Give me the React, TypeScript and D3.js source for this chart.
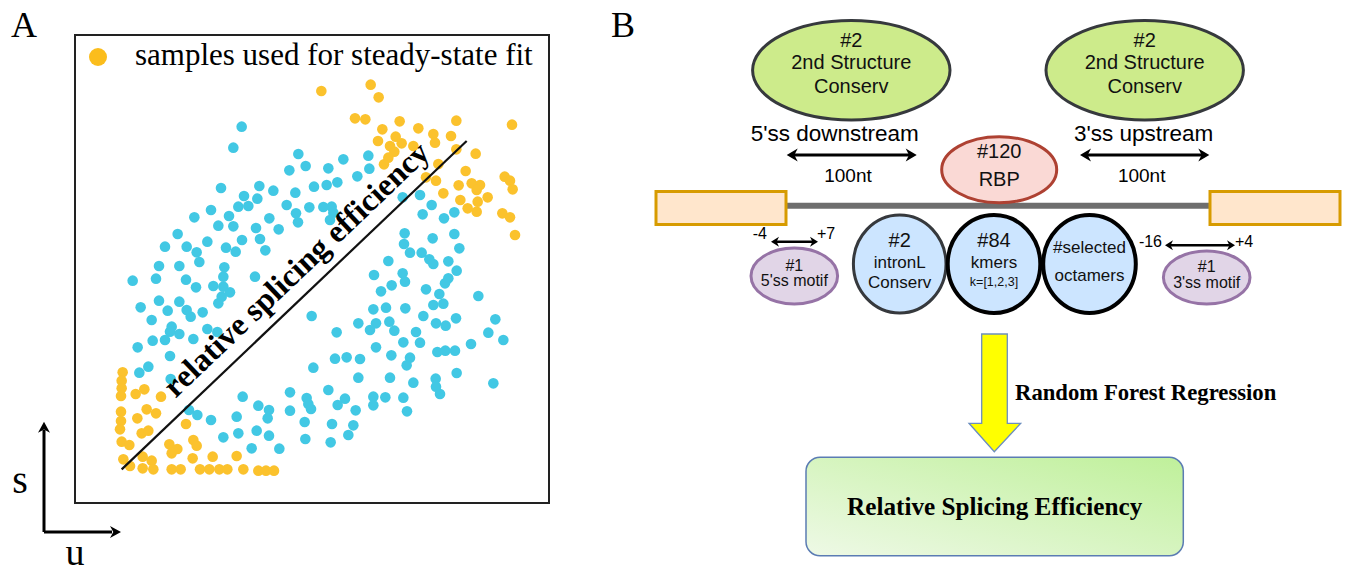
import * as d3 from 'd3';

// phase portrait samples, (u, s)
const fitSamples: [number, number][] = [
  [754, 1257], [902, 1276], [926, 1238], [855, 1175], [886, 1172], [989, 1166], [1159, 1168], [1326, 1156],
  [937, 1142], [1045, 1145], [1090, 1128], [1143, 1122], [924, 1107], [977, 1120], [995, 1100], [960, 1092],
  [1030, 1092], [1095, 1102], [1159, 1082], [1217, 1069], [973, 1075], [955, 1057], [942, 1037], [1105, 1038],
  [1068, 998], [1098, 988], [1187, 1017], [1166, 974], [1205, 980], [1230, 975], [1220, 960], [1253, 938],
  [1120, 950], [1171, 930], [1223, 925], [1193, 905], [1220, 895], [1304, 1000], [1320, 988], [1328, 962],
  [1297, 890], [1320, 878], [1335, 825],
  [158, 413], [155, 388], [155, 365], [153, 342], [197, 348], [223, 362], [273, 340], [153, 295],
  [153, 267], [150, 242], [202, 275], [230, 302], [258, 290], [215, 230], [235, 238], [348, 258],
  [155, 205], [178, 195], [160, 152], [180, 132], [218, 160], [245, 148], [218, 125], [250, 122],
  [298, 197], [322, 183], [305, 170], [370, 210], [380, 193], [368, 155], [428, 160], [500, 162],
  [305, 122], [332, 122], [390, 122], [418, 122], [448, 122], [472, 122], [520, 122], [565, 118],
  [588, 118], [612, 118],
];

const otherSamples: [number, number][] = [
  [515, 1150], [490, 1087], [685, 1068], [658, 1019], [707, 1032], [453, 966], [568, 972], [522, 942],
  [610, 958], [562, 934], [676, 952], [732, 970], [505, 910], [535, 912], [650, 915], [718, 908],
  [423, 900], [477, 882], [598, 875], [678, 890], [684, 863], [373, 878], [445, 853], [490, 851],
  [558, 846], [626, 842], [323, 828], [516, 810], [570, 813], [412, 805], [285, 790], [350, 790],
  [468, 787], [380, 773], [497, 775], [586, 779], [388, 744], [267, 732], [328, 732], [463, 728],
  [188, 688], [258, 694], [348, 691], [460, 700], [555, 700],
  [820, 1052], [895, 1063], [775, 1025], [898, 1024], [862, 1001], [770, 975], [802, 983], [760, 909],
  [785, 910], [790, 892], [780, 870], [998, 938], [1050, 945], [1085, 915], [1058, 887], [1122, 875],
  [1153, 893], [1004, 830], [1153, 828], [1002, 798], [1088, 815], [1020, 772], [1055, 772], [1168, 785],
  [955, 747], [1078, 752], [1090, 738], [1135, 746], [912, 705], [998, 710], [1160, 718],
  [1005, 685], [1135, 695], [1125, 680], [965, 674], [933, 656], [1068, 662], [1108, 648], [1225, 642],
  [725, 582], [910, 602], [948, 607], [1006, 605], [1090, 615], [1120, 619], [1060, 582], [1158, 575],
  [1276, 572], [865, 560], [918, 560], [958, 565], [1098, 560], [1127, 553], [800, 533], [900, 540],
  [973, 538], [1038, 534], [1255, 532], [1300, 510], [1000, 503], [1050, 502], [1203, 498], [918, 488],
  [1102, 474], [1126, 478], [1155, 478], [964, 464], [795, 454], [830, 458], [870, 453], [1020, 457],
  [1010, 434], [730, 427], [865, 397], [960, 397], [1160, 411], [1097, 394], [1098, 370], [1030, 382],
  [1270, 380], [1110, 348], [775, 360], [710, 336], [715, 318], [723, 303], [825, 334], [803, 315],
  [910, 340], [910, 314], [946, 338], [1000, 337], [857, 299], [1011, 296], [704, 264], [786, 258],
  [850, 254], [706, 213], [782, 203], [835, 225],
  [378, 668], [430, 672], [460, 670], [480, 653], [455, 640], [445, 620], [267, 628], [328, 625],
  [212, 608], [293, 598], [350, 600], [362, 580], [398, 593], [245, 570], [305, 550], [300, 535],
  [285, 510], [328, 528], [412, 543], [442, 534], [248, 508], [370, 513], [203, 488], [300, 462],
  [235, 430], [208, 412], [302, 393], [518, 340], [565, 313], [597, 300], [593, 275], [660, 353],
  [660, 298], [357, 300], [382, 285], [423, 270], [500, 280], [560, 238], [597, 223], [505, 230],
  [460, 218], [545, 185], [628, 184],
];

// steady-state fit line endpoints
const fitLine: [number, number][] = [[155, 122], [1190, 1107]];

const ORANGE = '#fbbd1c';
const CYAN = '#33c4e2';
const SANS = '"Liberation Sans", Arial, Helvetica, sans-serif';
const SERIF = '"Liberation Serif", "Times New Roman", serif';

// arrowhead helper: tip at (tx,ty), pointing in direction (dx,dy)
function head(tx: number, ty: number, dx: number, dy: number, len: number, hw: number) {
  const bx = tx - dx * len, by = ty - dy * len;
  const nx = -dy, ny = dx;
  const notch = len * 0.3;
  const mx = bx + dx * notch, my = by + dy * notch;
  return `M${tx},${ty}L${bx + nx * hw},${by + ny * hw}L${mx},${my}L${bx - nx * hw},${by - ny * hw}Z`;
}

function DoubleArrow({ x1, x2, y, sw, len, hw }: { x1: number; x2: number; y: number; sw: number; len: number; hw: number }) {
  return (
    <g>
      <line x1={x1 + len * 0.6} x2={x2 - len * 0.6} y1={y} y2={y} stroke="#000" strokeWidth={sw} />
      <path d={head(x1, y, -1, 0, len, hw)} fill="#000" />
      <path d={head(x2, y, 1, 0, len, hw)} fill="#000" />
    </g>
  );
}

type Line = { t: string; dy: number; fs: number };
type Node = { cx: number; cy: number; rx: number; ry: number; fill: string; stroke: string; sw: number; lines: Line[] };

const greenLines: Line[] = [
  { t: '#2', dy: -23.6, fs: 20 },
  { t: '2nd Structure', dy: -1, fs: 20 },
  { t: 'Conserv', dy: 22.4, fs: 20 },
];

const nodes: Node[] = [
  { cx: 851.3, cy: 70.3, rx: 98.7, ry: 49.7, fill: '#cdeb8b', stroke: '#36393d', sw: 3, lines: greenLines },
  { cx: 1144.7, cy: 70.3, rx: 98.7, ry: 49.7, fill: '#cdeb8b', stroke: '#36393d', sw: 3, lines: greenLines },
  {
    cx: 999.2, cy: 169.7, rx: 57.5, ry: 33, fill: '#fad9d5', stroke: '#ae4132', sw: 3,
    lines: [{ t: '#120', dy: -11.4, fs: 20 }, { t: 'RBP', dy: 16, fs: 20 }],
  },
  {
    cx: 794.3, cy: 276, rx: 43.3, ry: 28, fill: '#e1d5e7', stroke: '#9673a6', sw: 3,
    lines: [{ t: '#1', dy: -5.5, fs: 16 }, { t: "5'ss motif", dy: 10, fs: 16 }],
  },
  {
    cx: 1206.7, cy: 277.5, rx: 43.3, ry: 26.5, fill: '#e1d5e7', stroke: '#9673a6', sw: 3,
    lines: [{ t: '#1', dy: -5.5, fs: 16 }, { t: "3'ss motif", dy: 10.5, fs: 16 }],
  },
  {
    cx: 899.7, cy: 264, rx: 46.3, ry: 49, fill: '#cce5ff', stroke: '#36393d', sw: 3,
    lines: [{ t: '#2', dy: -17.3, fs: 20 }, { t: 'intronL', dy: 4, fs: 17 }, { t: 'Conserv', dy: 24, fs: 17 }],
  },
  {
    cx: 994, cy: 264, rx: 46.3, ry: 49, fill: '#cce5ff', stroke: '#000', sw: 4,
    lines: [{ t: '#84', dy: -17.3, fs: 20 }, { t: 'kmers', dy: 4.3, fs: 17 }, { t: 'k=[1,2,3]', dy: 21.5, fs: 12.5 }],
  },
  {
    cx: 1089.5, cy: 264, rx: 46.3, ry: 49, fill: '#cce5ff', stroke: '#000', sw: 4,
    lines: [{ t: '#selected', dy: -10.7, fs: 17 }, { t: 'octamers', dy: 16.7, fs: 17 }],
  },
];

export default function App() {
  const x = d3.scaleLinear().domain([0, 1440]).range([70, 550]);
  const y = d3.scaleLinear().domain([0, 1440]).range([510, 30]);

  const p0 = [x(fitLine[0][0]), y(fitLine[0][1])];
  const p1 = [x(fitLine[1][0]), y(fitLine[1][1])];
  const L = Math.hypot(p1[0] - p0[0], p1[1] - p0[1]);
  const d = [(p1[0] - p0[0]) / L, (p1[1] - p0[1]) / L];
  const n = [d[1], -d[0]];
  const ang = (Math.atan2(d[1], d[0]) * 180) / Math.PI;
  const tAlong = L * 0.555;
  const lx = p0[0] + d[0] * tAlong + n[0] * 14;
  const ly = p0[1] + d[1] * tAlong + n[1] * 14;

  const line = d3.line();

  return (
    <div style={{ position: 'absolute', left: 0, top: 0 }}>
      <svg width={1345} height={572} style={{ display: 'block', background: '#fff' }}>
        <defs>
          <linearGradient id="boxGrad" x1="0" y1="1" x2="1" y2="0">
            <stop offset="0" stopColor="#eef9e6" />
            <stop offset="1" stopColor="#bff09a" />
          </linearGradient>
        </defs>

        {/* ---------- panel A ---------- */}
        <text x={11} y={36.7} fontFamily={SERIF} fontSize={36}>A</text>
        <rect x={75} y={35} width={474} height={468} fill="none" stroke="#222" strokeWidth={2} />

        <circle cx={98} cy={57} r={9} fill={ORANGE} />
        <text x={135} y={65} fontFamily={SERIF} fontSize={31}>samples used for steady-state fit</text>

        <g opacity={0.92}>
          {otherSamples.map((p, i) => (
            <circle key={'c' + i} cx={x(p[0])} cy={y(p[1])} r={5.3} fill={CYAN} />
          ))}
        </g>
        <g opacity={0.92}>
          {fitSamples.map((p, i) => (
            <circle key={'o' + i} cx={x(p[0])} cy={y(p[1])} r={5.3} fill={ORANGE} />
          ))}
        </g>

        <path
          d={line(fitLine.map((p) => [x(p[0]), y(p[1])] as [number, number])) || ''}
          stroke="#111" strokeWidth={2.2} fill="none"
        />
        <text
          transform={`translate(${lx},${ly}) rotate(${ang})`}
          textAnchor="middle" fontFamily={SERIF} fontWeight="bold" fontSize={32}
        >
          relative splicing efficiency
        </text>

        {/* u / s axes */}
        <line x1={44} y1={532} x2={44} y2={430} stroke="#000" strokeWidth={3} />
        <line x1={44} y1={532} x2={112} y2={532} stroke="#000" strokeWidth={3} />
        <path d={head(44, 421.7, 0, -1, 11, 6)} fill="#000" />
        <path d={head(121, 532, 1, 0, 11, 6)} fill="#000" />
        <text x={20} y={493} textAnchor="middle" fontFamily={SERIF} fontSize={40}>s</text>
        <text x={75} y={565} textAnchor="middle" fontFamily={SERIF} fontSize={38}>u</text>

        {/* ---------- panel B ---------- */}
        <text x={611} y={36.7} fontFamily={SERIF} fontSize={36}>B</text>

        {/* intron and exons */}
        <line x1={786} x2={1210} y1={205.7} y2={205.7} stroke="#6e6e6e" strokeWidth={6} />
        <rect x={656} y={191.5} width={130} height={33} fill="#ffe6cc" stroke="#d79b00" strokeWidth={3} />
        <rect x={1210} y={191.5} width={130} height={33} fill="#ffe6cc" stroke="#d79b00" strokeWidth={3} />

        {nodes.map((nd, i) => (
          <g key={'n' + i}>
            <ellipse cx={nd.cx} cy={nd.cy} rx={nd.rx} ry={nd.ry} fill={nd.fill} stroke={nd.stroke} strokeWidth={nd.sw} />
            {nd.lines.map((ln, j) => (
              <text key={j} x={nd.cx} y={nd.cy + ln.dy} textAnchor="middle" fontFamily={SANS} fontSize={ln.fs} fill="#111">
                {ln.t}
              </text>
            ))}
          </g>
        ))}

        <text x={834.7} y={140.7} textAnchor="middle" fontFamily={SANS} fontSize={22.5}>5'ss downstream</text>
        <text x={1143.7} y={140.7} textAnchor="middle" fontFamily={SANS} fontSize={22.5}>3'ss upstream</text>
        <DoubleArrow x1={786.7} x2={916.7} y={155} sw={3} len={11} hw={6.5} />
        <DoubleArrow x1={1080} x2={1209.3} y={155} sw={3} len={11} hw={6.5} />
        <text x={848} y={181.7} textAnchor="middle" fontFamily={SANS} fontSize={19}>100nt</text>
        <text x={1141.7} y={181.7} textAnchor="middle" fontFamily={SANS} fontSize={19}>100nt</text>

        <text x={767} y={239} textAnchor="end" fontFamily={SANS} fontSize={16}>-4</text>
        <text x={817} y={239} fontFamily={SANS} fontSize={16}>+7</text>
        <DoubleArrow x1={771} x2={818} y={241.7} sw={2.5} len={8} hw={5} />
        <text x={1162} y={246.7} textAnchor="end" fontFamily={SANS} fontSize={16}>-16</text>
        <text x={1235} y={246.7} fontFamily={SANS} fontSize={16}>+4</text>
        <DoubleArrow x1={1165} x2={1235} y={245.3} sw={2.5} len={8} hw={5} />

        {/* regression arrow */}
        <path
          d="M981.7,334L1007.3,334L1007.3,423.3L1020.7,423.3L994.3,451.7L969,423.3L981.7,423.3Z"
          fill="#ffff00" stroke="#6c8ebf" strokeWidth={1.3}
        />
        <text x={1015} y={400} fontFamily={SERIF} fontWeight="bold" fontSize={22.7}>Random Forest Regression</text>

        <rect x={806} y={457.3} width={377.3} height={98.4} rx={14} fill="url(#boxGrad)" stroke="#5b7cb3" strokeWidth={1.5} />
        <text x={994.7} y={515} textAnchor="middle" fontFamily={SERIF} fontWeight="bold" fontSize={25.2}>
          Relative Splicing Efficiency
        </text>
      </svg>
    </div>
  );
}
